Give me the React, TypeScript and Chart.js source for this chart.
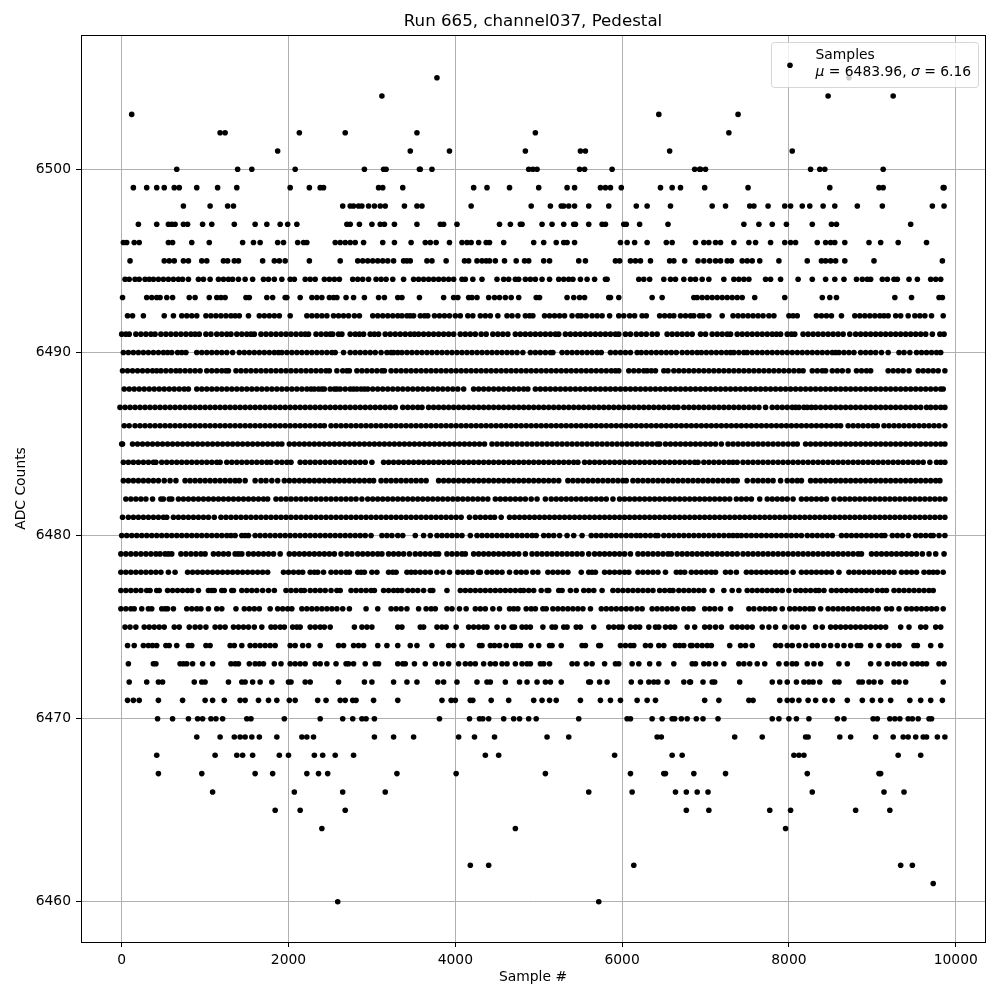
import React, { useEffect, useRef } from "react";
import { Chart, registerables } from "chart.js";

Chart.register(...registerables);

// Sample numbers of each ADC level, in tens of samples.
const SAMPLE_UNIT = 10;
const l6505 = [378, 872];
const l6504 = [312, 847, 925];
const l6503 = [12, 644, 739];
const l6502 = [118, 124, 213, 268, 354, 496, 728];
const l6501 = [187, 346, 393, 484, 550, 556, 657, 804];
const l6500 = [66, 139, 156, 208, 291, 314, 317, 357, 358, 372, 488, 493, 498, 549, 555, 588, 687, 693, 694, 700, 826, 837, 843, 913];
const l6499 = [14, 30, 42, 51, 63, 69, 90, 115, 138, 202, 225, 238, 242, 308, 313, 337, 422, 438, 465, 500, 534, 543, 574, 580, 586, 599, 646, 660, 670, 699, 751, 849, 908, 913, 985, 986];
const l6498 = [74, 106, 127, 134, 265, 274, 278, 284, 288, 296, 303, 310, 316, 339, 354, 360, 419, 491, 514, 527, 530, 536, 543, 560, 584, 617, 630, 658, 708, 724, 753, 758, 775, 795, 802, 816, 825, 841, 855, 882, 912, 972, 986];
const l6497 = [20, 42, 56, 60, 64, 74, 79, 97, 108, 135, 160, 174, 190, 199, 210, 270, 274, 285, 300, 310, 315, 327, 354, 382, 386, 402, 453, 466, 478, 480, 504, 516, 530, 542, 544, 560, 576, 580, 602, 605, 621, 655, 746, 764, 780, 797, 828, 851, 857, 946];
const l6496 = [2, 6, 15, 21, 56, 61, 84, 105, 145, 158, 166, 187, 194, 211, 218, 222, 256, 262, 268, 274, 280, 290, 313, 327, 347, 364, 370, 377, 393, 408, 414, 419, 428, 437, 441, 458, 494, 506, 521, 530, 534, 543, 598, 606, 615, 630, 653, 660, 688, 698, 704, 712, 718, 734, 752, 760, 778, 795, 802, 808, 834, 844, 850, 855, 867, 896, 910, 931, 965];
const l6495 = [10, 51, 57, 63, 74, 80, 96, 102, 122, 127, 135, 140, 169, 183, 189, 196, 225, 262, 283, 289, 295, 301, 307, 313, 319, 326, 338, 342, 346, 366, 372, 389, 411, 416, 426, 432, 437, 441, 448, 459, 473, 483, 488, 506, 513, 548, 556, 592, 597, 610, 616, 622, 634, 657, 662, 675, 691, 698, 705, 712, 718, 726, 731, 744, 750, 756, 765, 788, 822, 839, 844, 850, 856, 867, 902, 984];
const l6494 = [4, 9, 16, 21, 28, 33, 38, 44, 50, 56, 62, 68, 73, 80, 92, 98, 106, 116, 122, 128, 133, 140, 148, 157, 170, 176, 183, 192, 202, 207, 220, 226, 232, 243, 249, 255, 261, 277, 283, 289, 296, 305, 311, 317, 325, 338, 350, 356, 362, 368, 374, 380, 386, 392, 398, 408, 412, 421, 432, 450, 458, 464, 472, 476, 484, 490, 496, 504, 513, 524, 530, 536, 541, 550, 558, 567, 580, 582, 620, 626, 633, 650, 658, 664, 674, 682, 688, 696, 704, 722, 734, 740, 746, 752, 772, 778, 790, 811, 828, 844, 855, 866, 881, 888, 894, 898, 912, 918, 926, 930, 944, 954, 970, 976, 982];
const l6493 = [1, 30, 36, 42, 46, 54, 61, 81, 88, 105, 114, 119, 124, 149, 153, 174, 181, 196, 198, 214, 228, 234, 240, 249, 254, 258, 269, 278, 291, 308, 315, 331, 336, 357, 386, 398, 403, 416, 420, 426, 440, 447, 453, 460, 467, 476, 497, 501, 534, 542, 549, 555, 584, 586, 596, 636, 648, 686, 690, 696, 702, 708, 714, 720, 726, 732, 738, 744, 759, 795, 840, 849, 857, 927, 947, 980, 984];
const l6492 = [7, 13, 26, 51, 62, 72, 78, 84, 90, 101, 107, 113, 119, 125, 131, 136, 141, 152, 165, 171, 177, 183, 189, 202, 222, 228, 234, 240, 246, 254, 260, 266, 272, 279, 285, 301, 307, 313, 319, 325, 331, 336, 342, 346, 350, 358, 363, 367, 375, 381, 387, 393, 400, 406, 415, 421, 430, 436, 442, 451, 462, 468, 475, 484, 489, 493, 507, 513, 519, 525, 531, 540, 547, 551, 557, 564, 570, 576, 585, 596, 602, 609, 615, 624, 629, 645, 651, 657, 662, 670, 676, 682, 686, 693, 697, 704, 720, 733, 739, 745, 751, 757, 763, 769, 776, 782, 800, 805, 810, 833, 839, 845, 851, 863, 879, 885, 891, 897, 903, 909, 914, 919, 928, 934, 943, 951, 957, 963, 971, 985];
const l6491 = [0, 5, 9, 17, 23, 29, 35, 40, 47, 53, 59, 65, 71, 77, 83, 88, 93, 101, 107, 114, 120, 126, 131, 138, 144, 150, 155, 159, 167, 173, 179, 185, 191, 197, 203, 209, 215, 220, 224, 233, 239, 245, 250, 253, 260, 264, 274, 280, 285, 290, 298, 303, 308, 316, 322, 328, 334, 340, 346, 351, 356, 362, 368, 374, 380, 386, 392, 398, 406, 412, 418, 424, 431, 437, 445, 451, 457, 463, 472, 478, 484, 490, 496, 502, 508, 514, 520, 524, 532, 538, 544, 550, 556, 562, 568, 574, 580, 586, 592, 596, 604, 610, 617, 623, 629, 636, 642, 654, 660, 666, 672, 678, 684, 694, 700, 708, 714, 720, 726, 730, 738, 744, 750, 756, 762, 768, 774, 780, 785, 790, 798, 803, 807, 817, 823, 829, 835, 841, 847, 853, 859, 865, 873, 880, 886, 892, 898, 904, 910, 916, 922, 928, 934, 940, 946, 952, 958, 964, 972, 981, 986];
const l6490 = [2, 8, 14, 20, 26, 32, 38, 44, 50, 55, 60, 67, 72, 77, 90, 96, 102, 108, 114, 120, 126, 133, 141, 147, 153, 159, 165, 171, 177, 183, 188, 192, 198, 204, 210, 216, 222, 228, 234, 240, 246, 252, 256, 266, 274, 280, 286, 292, 298, 304, 311, 318, 323, 326, 331, 336, 342, 348, 354, 360, 366, 372, 378, 384, 390, 396, 402, 408, 414, 420, 426, 432, 438, 444, 450, 456, 462, 468, 474, 481, 490, 496, 502, 508, 514, 517, 528, 534, 540, 546, 552, 558, 564, 570, 575, 586, 592, 598, 604, 610, 618, 623, 629, 635, 641, 647, 653, 659, 665, 672, 678, 684, 690, 695, 701, 707, 713, 719, 725, 730, 734, 740, 746, 750, 756, 762, 768, 774, 780, 786, 792, 798, 804, 810, 816, 822, 828, 834, 840, 846, 852, 856, 860, 866, 872, 878, 886, 892, 898, 904, 911, 919, 932, 938, 945, 953, 959, 965, 971, 977, 982];
const l6489 = [1, 7, 13, 19, 25, 31, 37, 42, 47, 53, 59, 65, 70, 76, 82, 88, 94, 102, 108, 114, 120, 125, 128, 137, 143, 149, 155, 161, 167, 173, 179, 185, 191, 197, 203, 209, 215, 221, 227, 233, 239, 245, 249, 258, 265, 270, 273, 282, 288, 294, 300, 306, 312, 315, 323, 329, 335, 341, 347, 353, 359, 365, 371, 377, 383, 389, 395, 401, 407, 413, 419, 425, 431, 437, 443, 449, 455, 461, 467, 473, 479, 485, 491, 497, 503, 509, 515, 521, 527, 533, 539, 545, 551, 557, 563, 569, 575, 581, 587, 592, 596, 608, 614, 620, 626, 630, 635, 640, 650, 655, 662, 668, 674, 680, 686, 692, 698, 704, 710, 716, 722, 728, 734, 740, 746, 752, 758, 764, 770, 776, 782, 788, 794, 800, 806, 812, 817, 828, 834, 840, 844, 852, 858, 864, 871, 881, 887, 893, 898, 919, 925, 931, 937, 944, 955, 961, 967, 973, 979, 987];
const l6488 = [3, 9, 15, 21, 27, 33, 39, 45, 51, 57, 63, 69, 75, 80, 90, 96, 102, 108, 114, 120, 126, 132, 138, 144, 150, 156, 162, 168, 174, 180, 186, 192, 198, 204, 210, 216, 222, 227, 231, 236, 240, 243, 250, 255, 258, 262, 268, 274, 278, 282, 287, 291, 295, 301, 307, 313, 319, 325, 331, 337, 343, 349, 355, 361, 367, 373, 379, 385, 391, 397, 403, 410, 422, 428, 434, 440, 446, 452, 458, 464, 470, 476, 482, 487, 496, 502, 508, 514, 520, 526, 532, 538, 544, 550, 556, 562, 568, 574, 580, 586, 592, 598, 604, 610, 616, 622, 628, 634, 640, 646, 652, 658, 664, 670, 676, 682, 688, 694, 700, 706, 712, 718, 724, 730, 736, 742, 748, 754, 760, 766, 772, 778, 784, 790, 796, 802, 808, 814, 820, 826, 832, 838, 844, 850, 856, 862, 868, 874, 880, 886, 892, 898, 904, 910, 916, 922, 928, 934, 940, 946, 952, 958, 964, 970, 976, 982, 985];
const l6487 = [-2, 4, 10, 16, 22, 28, 34, 40, 46, 52, 58, 64, 70, 76, 82, 88, 94, 100, 106, 112, 118, 124, 130, 136, 142, 148, 154, 160, 166, 172, 178, 184, 190, 196, 202, 208, 214, 220, 226, 232, 238, 244, 250, 256, 262, 268, 274, 280, 286, 292, 298, 304, 310, 316, 322, 328, 337, 343, 349, 355, 360, 368, 374, 380, 386, 392, 398, 404, 410, 416, 422, 428, 434, 440, 446, 452, 458, 464, 470, 476, 482, 488, 494, 500, 506, 512, 518, 524, 530, 536, 542, 548, 554, 560, 566, 572, 578, 584, 590, 596, 602, 608, 614, 620, 626, 632, 638, 644, 650, 656, 662, 667, 674, 680, 686, 692, 698, 704, 710, 716, 722, 728, 734, 740, 746, 752, 758, 764, 772, 780, 786, 792, 798, 804, 808, 812, 818, 822, 827, 832, 838, 844, 850, 856, 862, 868, 874, 880, 886, 892, 898, 904, 910, 916, 922, 928, 934, 940, 946, 952, 958, 965, 970, 976, 982, 987];
const l6486 = [3, 9, 16, 22, 28, 34, 40, 46, 52, 58, 64, 70, 76, 82, 88, 94, 100, 106, 112, 118, 124, 130, 136, 142, 148, 154, 160, 166, 172, 178, 184, 190, 196, 202, 208, 214, 220, 226, 232, 238, 243, 251, 257, 263, 269, 275, 281, 287, 293, 299, 305, 311, 317, 323, 329, 335, 341, 347, 353, 359, 365, 371, 377, 383, 389, 395, 401, 407, 413, 419, 425, 431, 437, 443, 449, 455, 461, 467, 473, 479, 485, 491, 497, 503, 509, 515, 521, 527, 533, 539, 545, 551, 557, 563, 569, 575, 581, 587, 593, 599, 605, 611, 617, 623, 629, 635, 641, 647, 653, 659, 665, 671, 677, 683, 689, 695, 701, 707, 713, 719, 725, 731, 737, 743, 749, 755, 761, 767, 773, 779, 785, 791, 797, 803, 809, 815, 821, 827, 833, 839, 845, 851, 857, 862, 871, 877, 883, 889, 895, 901, 906, 914, 920, 926, 932, 938, 944, 950, 956, 962, 968, 974, 980, 987];
const l6485 = [0, 1, 13, 19, 25, 31, 37, 43, 49, 55, 61, 67, 73, 79, 85, 91, 97, 103, 109, 115, 121, 127, 133, 139, 145, 151, 157, 163, 169, 175, 181, 187, 192, 201, 207, 213, 219, 225, 231, 237, 243, 249, 255, 261, 267, 273, 279, 285, 291, 297, 303, 309, 315, 321, 327, 333, 339, 345, 351, 357, 363, 369, 375, 381, 387, 393, 399, 405, 411, 417, 423, 429, 435, 444, 450, 456, 462, 468, 474, 480, 486, 492, 498, 504, 510, 516, 522, 528, 534, 540, 546, 552, 558, 564, 570, 576, 582, 588, 594, 600, 606, 612, 618, 624, 630, 636, 642, 645, 652, 658, 664, 670, 676, 682, 688, 694, 700, 706, 712, 719, 727, 733, 739, 745, 751, 757, 763, 769, 775, 781, 787, 793, 799, 805, 810, 820, 826, 832, 838, 844, 850, 856, 862, 868, 874, 880, 886, 892, 898, 904, 910, 916, 922, 928, 934, 940, 946, 952, 958, 964, 970, 976, 982, 987];
const l6484 = [2, 8, 14, 20, 26, 32, 38, 41, 48, 54, 60, 66, 72, 78, 84, 90, 96, 102, 108, 114, 118, 126, 132, 138, 144, 150, 156, 162, 168, 174, 179, 186, 192, 198, 203, 214, 220, 226, 232, 238, 244, 250, 256, 262, 268, 274, 280, 286, 292, 300, 314, 320, 326, 332, 338, 344, 350, 356, 362, 368, 374, 380, 386, 392, 398, 404, 410, 416, 422, 428, 434, 440, 446, 452, 458, 464, 470, 476, 482, 488, 494, 500, 506, 512, 518, 524, 530, 536, 542, 547, 555, 561, 567, 573, 579, 585, 591, 597, 603, 609, 615, 621, 627, 633, 639, 645, 651, 657, 663, 669, 675, 681, 687, 691, 698, 704, 710, 716, 722, 728, 733, 738, 745, 751, 757, 763, 769, 775, 781, 787, 793, 799, 805, 811, 817, 823, 829, 835, 841, 847, 853, 859, 865, 871, 877, 883, 889, 895, 901, 907, 913, 919, 925, 931, 937, 943, 949, 955, 961, 969, 977, 982, 987];
const l6483 = [2, 8, 14, 20, 26, 32, 38, 44, 51, 58, 65, 76, 82, 88, 94, 100, 106, 112, 118, 124, 130, 136, 141, 148, 160, 167, 173, 180, 187, 195, 201, 207, 213, 219, 225, 231, 237, 243, 249, 255, 261, 267, 273, 279, 285, 291, 297, 302, 311, 317, 323, 329, 335, 341, 347, 353, 359, 365, 380, 386, 392, 398, 404, 410, 416, 422, 428, 434, 440, 446, 452, 458, 464, 470, 476, 482, 488, 494, 500, 506, 512, 518, 524, 535, 541, 547, 553, 559, 565, 571, 577, 583, 589, 595, 601, 605, 613, 619, 625, 631, 637, 643, 649, 655, 661, 667, 673, 679, 685, 691, 697, 703, 709, 715, 721, 727, 733, 738, 750, 757, 763, 769, 775, 781, 790, 798, 804, 810, 815, 826, 832, 838, 844, 850, 856, 862, 868, 874, 880, 886, 892, 898, 904, 910, 916, 922, 928, 934, 940, 946, 952, 958, 964, 970, 976, 981];
const l6482 = [5, 11, 17, 23, 29, 37, 47, 50, 57, 60, 68, 74, 80, 86, 92, 98, 104, 110, 116, 122, 128, 134, 140, 146, 152, 158, 164, 170, 175, 185, 191, 197, 203, 209, 215, 221, 227, 233, 239, 245, 251, 257, 263, 269, 275, 281, 288, 295, 301, 307, 313, 319, 325, 331, 337, 343, 349, 355, 361, 367, 373, 379, 385, 391, 397, 403, 409, 415, 421, 427, 433, 439, 448, 454, 460, 466, 472, 478, 484, 491, 498, 508, 515, 521, 527, 533, 539, 545, 551, 557, 563, 569, 575, 581, 589, 597, 603, 609, 615, 621, 627, 633, 639, 645, 651, 657, 663, 669, 675, 681, 687, 693, 699, 705, 711, 717, 723, 729, 737, 743, 749, 755, 765, 774, 780, 786, 792, 798, 805, 815, 821, 827, 833, 839, 845, 854, 861, 867, 873, 879, 885, 891, 897, 903, 909, 915, 921, 927, 933, 939, 945, 951, 957, 963, 969, 975, 981, 987];
const l6481 = [1, 8, 14, 20, 26, 32, 38, 44, 50, 54, 62, 68, 74, 80, 86, 92, 98, 104, 111, 119, 125, 131, 137, 143, 149, 155, 161, 167, 173, 179, 185, 191, 197, 203, 209, 215, 221, 227, 233, 239, 245, 251, 257, 263, 269, 275, 281, 287, 293, 299, 305, 311, 317, 323, 329, 335, 341, 347, 353, 359, 365, 371, 377, 383, 389, 395, 401, 407, 417, 424, 430, 436, 442, 447, 455, 465, 471, 477, 483, 489, 495, 501, 507, 513, 519, 525, 531, 537, 543, 549, 555, 561, 567, 573, 579, 585, 591, 597, 603, 609, 615, 621, 627, 633, 639, 645, 651, 657, 663, 669, 675, 681, 687, 693, 699, 705, 711, 717, 723, 729, 735, 741, 747, 753, 759, 765, 771, 777, 783, 789, 795, 801, 807, 813, 819, 825, 831, 837, 843, 849, 855, 861, 867, 873, 879, 885, 891, 897, 903, 909, 915, 921, 927, 933, 939, 945, 951, 957, 963, 969, 975, 981, 987];
const l6480 = [0, 6, 12, 18, 24, 30, 36, 42, 48, 54, 60, 66, 72, 78, 84, 90, 96, 102, 108, 114, 120, 126, 131, 136, 144, 148, 152, 160, 166, 172, 178, 184, 190, 196, 202, 208, 214, 220, 226, 232, 238, 244, 250, 256, 262, 268, 274, 280, 286, 292, 299, 312, 318, 324, 331, 337, 352, 362, 370, 378, 384, 390, 396, 402, 408, 418, 426, 432, 438, 444, 450, 456, 462, 468, 474, 480, 486, 492, 497, 506, 512, 518, 525, 534, 542, 552, 563, 569, 575, 581, 587, 593, 599, 605, 611, 617, 622, 628, 634, 640, 643, 650, 656, 662, 668, 674, 680, 686, 692, 698, 704, 710, 716, 722, 728, 733, 738, 743, 749, 755, 761, 767, 773, 779, 785, 791, 797, 803, 809, 815, 822, 828, 834, 840, 846, 852, 863, 869, 875, 881, 887, 893, 899, 905, 911, 915, 924, 930, 936, 943, 952, 958, 964, 970, 973, 980, 987];
const l6479 = [-1, 5, 11, 17, 23, 29, 35, 41, 46, 52, 56, 60, 71, 77, 83, 89, 95, 100, 110, 116, 122, 128, 136, 140, 144, 152, 158, 164, 170, 176, 182, 190, 201, 207, 213, 219, 225, 231, 237, 243, 249, 255, 263, 270, 276, 283, 289, 295, 301, 307, 312, 320, 326, 332, 338, 345, 352, 358, 364, 370, 376, 380, 390, 396, 402, 408, 412, 422, 428, 434, 440, 446, 452, 458, 464, 470, 476, 484, 492, 498, 504, 510, 516, 522, 528, 534, 540, 546, 552, 560, 567, 573, 579, 585, 591, 597, 603, 610, 619, 625, 631, 637, 643, 649, 655, 659, 666, 672, 678, 684, 690, 696, 702, 708, 714, 720, 726, 732, 738, 745, 751, 757, 763, 769, 775, 781, 787, 793, 799, 805, 811, 817, 823, 829, 835, 841, 847, 853, 859, 865, 871, 877, 883, 887, 899, 905, 911, 917, 923, 929, 935, 941, 947, 953, 960, 968, 976, 986];
const l6478 = [-1, 5, 11, 17, 23, 29, 35, 41, 47, 56, 64, 79, 85, 91, 97, 103, 109, 115, 121, 127, 133, 139, 145, 151, 157, 163, 169, 175, 194, 200, 206, 212, 217, 226, 231, 235, 242, 251, 257, 263, 269, 273, 283, 287, 291, 300, 306, 320, 325, 329, 342, 347, 352, 358, 364, 370, 378, 385, 393, 403, 409, 415, 420, 428, 430, 438, 444, 450, 456, 465, 473, 479, 485, 493, 499, 511, 517, 523, 529, 535, 551, 560, 564, 568, 579, 585, 591, 597, 603, 608, 619, 625, 631, 637, 643, 652, 665, 670, 675, 683, 689, 695, 701, 707, 712, 724, 730, 737, 749, 755, 761, 767, 773, 779, 785, 791, 797, 805, 815, 821, 827, 833, 839, 845, 851, 860, 872, 878, 884, 890, 896, 902, 908, 914, 920, 926, 935, 941, 947, 953, 962, 968, 973, 978, 985];
const l6477 = [-1, 5, 11, 17, 23, 30, 34, 42, 45, 55, 61, 67, 73, 79, 84, 92, 104, 108, 111, 120, 123, 132, 134, 144, 150, 156, 162, 169, 176, 183, 197, 203, 209, 215, 219, 226, 232, 238, 244, 251, 258, 262, 275, 281, 287, 293, 299, 303, 314, 320, 326, 331, 336, 343, 349, 355, 362, 370, 373, 390, 406, 412, 418, 424, 430, 436, 442, 448, 454, 460, 466, 472, 478, 482, 488, 494, 503, 510, 512, 524, 528, 538, 545, 554, 560, 566, 576, 589, 595, 601, 607, 613, 619, 625, 631, 637, 645, 651, 657, 661, 668, 674, 680, 686, 692, 698, 708, 722, 732, 740, 750, 756, 762, 768, 774, 780, 786, 792, 800, 808, 814, 820, 826, 832, 836, 842, 851, 857, 863, 869, 875, 881, 887, 893, 899, 906, 912, 917, 926, 932, 938, 944, 950, 956, 962, 968, 973];
const l6476 = [-1, 5, 11, 15, 24, 32, 36, 48, 52, 55, 62, 78, 84, 90, 95, 104, 114, 120, 137, 147, 153, 159, 165, 178, 187, 193, 199, 204, 216, 222, 228, 234, 240, 246, 252, 258, 265, 273, 293, 307, 323, 329, 335, 342, 356, 365, 371, 376, 390, 396, 405, 413, 424, 430, 436, 445, 453, 465, 470, 475, 485, 491, 496, 505, 509, 517, 523, 529, 535, 541, 547, 553, 562, 575, 581, 587, 593, 599, 605, 611, 618, 624, 636, 642, 648, 654, 660, 666, 674, 680, 685, 699, 705, 711, 718, 730, 752, 758, 765, 771, 777, 783, 792, 801, 807, 813, 819, 825, 829, 838, 847, 853, 859, 865, 871, 877, 883, 889, 895, 901, 907, 917, 923, 932, 941, 947, 953, 959, 965, 971, 977, 985];
const l6475 = [4, 10, 17, 27, 33, 39, 45, 51, 63, 69, 81, 88, 94, 101, 112, 118, 124, 134, 140, 146, 152, 159, 168, 179, 184, 190, 195, 205, 210, 214, 226, 232, 238, 243, 250, 279, 288, 294, 300, 331, 336, 358, 362, 378, 384, 389, 401, 416, 422, 428, 434, 438, 450, 458, 468, 471, 480, 485, 490, 505, 516, 520, 530, 534, 545, 550, 566, 584, 590, 596, 600, 610, 616, 621, 632, 640, 644, 652, 658, 663, 678, 687, 699, 705, 712, 719, 732, 738, 744, 750, 756, 768, 776, 784, 795, 804, 810, 818, 832, 840, 850, 856, 862, 868, 874, 880, 886, 892, 898, 904, 910, 916, 934, 944, 958, 964, 976, 982];
const l6474 = [7, 15, 26, 32, 37, 42, 53, 57, 66, 80, 84, 101, 106, 130, 135, 144, 154, 160, 166, 172, 178, 184, 202, 208, 217, 224, 238, 260, 266, 278, 284, 290, 307, 318, 331, 346, 354, 372, 392, 398, 408, 429, 432, 442, 447, 453, 461, 469, 474, 478, 491, 500, 513, 516, 527, 552, 556, 572, 574, 598, 604, 610, 614, 628, 634, 644, 650, 664, 669, 674, 682, 684, 690, 696, 702, 707, 729, 742, 748, 756, 784, 790, 798, 804, 812, 820, 828, 834, 842, 850, 858, 866, 874, 882, 886, 898, 908, 919, 926, 932, 950, 954, 970, 982];
const l6473 = [8, 38, 41, 70, 74, 78, 85, 97, 109, 131, 136, 140, 153, 160, 165, 170, 183, 191, 202, 208, 214, 220, 232, 238, 246, 257, 269, 272, 278, 292, 304, 308, 331, 337, 340, 351, 364, 376, 384, 392, 404, 412, 418, 424, 434, 442, 448, 456, 462, 472, 480, 486, 490, 502, 506, 513, 540, 546, 557, 564, 579, 592, 596, 612, 620, 633, 644, 662, 684, 688, 698, 704, 712, 722, 740, 746, 753, 762, 771, 788, 797, 804, 809, 822, 830, 838, 860, 870, 898, 908, 918, 926, 932, 939, 948, 954, 960, 965, 980, 986];
const l6472 = [9, 30, 44, 49, 87, 96, 100, 128, 144, 148, 157, 166, 180, 200, 203, 220, 226, 260, 291, 300, 326, 342, 354, 379, 386, 402, 426, 438, 442, 460, 477, 486, 498, 508, 514, 527, 560, 562, 573, 582, 611, 622, 632, 638, 643, 654, 674, 681, 682, 697, 708, 711, 741, 780, 789, 798, 809, 818, 824, 829, 837, 855, 860, 884, 888, 896, 902, 910, 926, 932, 940, 985];
const l6471 = [7, 14, 21, 44, 73, 100, 109, 123, 142, 148, 164, 176, 186, 201, 208, 235, 245, 262, 268, 277, 281, 302, 331, 384, 395, 400, 418, 421, 443, 464, 494, 504, 513, 521, 550, 574, 586, 598, 618, 630, 640, 699, 716, 752, 757, 789, 798, 804, 812, 823, 832, 843, 852, 870, 888, 900, 910, 922, 945, 958, 970, 984];
const l6470 = [43, 61, 80, 91, 97, 107, 113, 121, 150, 155, 195, 238, 265, 277, 288, 293, 303, 381, 417, 429, 433, 440, 458, 470, 477, 488, 497, 548, 606, 610, 636, 648, 660, 663, 671, 678, 689, 697, 715, 780, 788, 800, 809, 824, 858, 866, 901, 906, 921, 927, 933, 943, 948, 955, 968, 971];
const l6469 = [90, 118, 135, 142, 148, 156, 165, 186, 216, 222, 230, 303, 326, 350, 404, 423, 447, 510, 536, 642, 647, 735, 768, 820, 823, 861, 874, 904, 925, 937, 943, 952, 961, 965, 978, 987];
const l6468 = [42, 112, 138, 145, 157, 189, 200, 231, 241, 256, 278, 436, 452, 591, 660, 672, 806, 812, 818, 931, 958];
const l6467 = [44, 96, 160, 181, 222, 236, 247, 330, 401, 508, 610, 650, 652, 686, 724, 822, 908, 910];
const l6466 = [109, 207, 265, 316, 560, 612, 664, 677, 690, 703, 828, 914, 938];
const l6465 = [184, 214, 268, 677, 704, 777, 802, 880, 921];
const l6464 = [240, 472, 796];
const l6462 = [418, 440, 614, 934, 948];
const l6461 = [973];
const l6460 = [259, 572];

const levelRows: [number, number[]][] = [
  [6505, l6505], [6504, l6504], [6503, l6503], [6502, l6502], [6501, l6501], [6500, l6500],
  [6499, l6499], [6498, l6498], [6497, l6497], [6496, l6496], [6495, l6495], [6494, l6494],
  [6493, l6493], [6492, l6492], [6491, l6491], [6490, l6490], [6489, l6489], [6488, l6488],
  [6487, l6487], [6486, l6486], [6485, l6485], [6484, l6484], [6483, l6483], [6482, l6482],
  [6481, l6481], [6480, l6480], [6479, l6479], [6478, l6478], [6477, l6477], [6476, l6476],
  [6475, l6475], [6474, l6474], [6473, l6473], [6472, l6472], [6471, l6471], [6470, l6470],
  [6469, l6469], [6468, l6468], [6467, l6467], [6466, l6466], [6465, l6465], [6464, l6464],
  [6462, l6462], [6461, l6461], [6460, l6460],
];

const xTicks = [0, 2000, 4000, 6000, 8000, 10000];
const yTicks = [6460, 6470, 6480, 6490, 6500];
const titleText = "Run 665, channel037, Pedestal";
const xLabel = "Sample #";
const yLabel = "ADC Counts";
const legendLabel = "Samples";
const mu = "6483.96";
const sigma = "6.16";

const FONT = '"DejaVu Sans"';

const framePlugin = {
  id: "frameAndLegend",
  afterDatasetsDraw(chart: any) {
    const { ctx, chartArea: a } = chart;
    ctx.save();
    ctx.strokeStyle = "#000";
    ctx.lineWidth = 1;
    ctx.strokeRect(Math.round(a.left) + 0.5, Math.round(a.top) + 0.5, Math.round(a.right - a.left), Math.round(a.bottom - a.top));

    // legend box, drawn over the points as in the reference
    const bx = 771.5, by = 42.5, bw = 207, bh = 45;
    ctx.beginPath();
    ctx.roundRect(bx, by, bw, bh, 3);
    ctx.fillStyle = "rgba(255,255,255,0.8)";
    ctx.fill();
    ctx.strokeStyle = "rgba(204,204,204,0.8)";
    ctx.stroke();
    ctx.fillStyle = "#000";
    ctx.beginPath();
    ctx.arc(790, 65.2, 2.8, 0, Math.PI * 2);
    ctx.fill();
    ctx.textBaseline = "alphabetic";
    ctx.textAlign = "left";
    const regular = `13.89px ${FONT}`;
    const italic = `italic 13.89px ${FONT}`;
    ctx.font = regular;
    ctx.fillText(legendLabel, 815.5, 59);
    let x = 815.5;
    const parts: [string, string][] = [
      ["\u03bc", italic],
      [" = ", regular],
      [`${mu}, `, regular],
      ["\u03c3", italic],
      [" = ", regular],
      [sigma, regular],
    ];
    for (const [t, f] of parts) {
      ctx.font = f;
      ctx.fillText(t, x, 76);
      x += ctx.measureText(t).width;
    }
    ctx.restore();
  },
};

export default function App() {
  const ref = useRef<HTMLCanvasElement>(null);
  useEffect(() => {
    const data = levelRows.flatMap(([level, xs]) => xs.map((t) => ({ x: t * SAMPLE_UNIT, y: level })));
    const chart = new Chart(ref.current!, {
      type: "scatter",
      data: {
        datasets: [
          {
            label: legendLabel,
            data,
            backgroundColor: "#000",
            borderWidth: 0,
            pointRadius: 2.8,
            pointHoverRadius: 2.8,
          },
        ],
      },
      plugins: [framePlugin],
      options: {
        animation: false,
        responsive: false,
        events: [],
        layout: { padding: { left: 0, right: 15, top: 0, bottom: 0 } },
        plugins: {
          legend: { display: false },
          tooltip: { enabled: false },
          title: {
            display: true,
            fullSize: false,
            text: titleText,
            color: "#000",
            font: { family: FONT, size: 16.67, weight: "normal" },
            padding: { top: 12, bottom: 3 },
          },
        },
        scales: {
          x: {
            type: "linear",
            min: -488,
            max: 10351,
            afterBuildTicks: (s: any) => {
              s.ticks = xTicks.map((value) => ({ value }));
            },
            afterFit: (s: any) => {
              s.height = 58;
            },
            title: {
              display: true,
              text: xLabel,
              color: "#000",
              font: { family: FONT, size: 13.89 },
              padding: { top: 4, bottom: 14 },
            },
            border: { color: "#000" },
            grid: { color: "#b0b0b0", lineWidth: 1, tickColor: "#000", tickLength: 5 },
            ticks: {
              color: "#000",
              font: { family: FONT, size: 13.89 },
              padding: 5,
              maxRotation: 0,
              autoSkip: false,
              callback: (v: any) => String(v),
            },
          },
          y: {
            type: "linear",
            min: 6457.805,
            max: 6507.335,
            afterBuildTicks: (s: any) => {
              s.ticks = yTicks.map((value) => ({ value }));
            },
            afterFit: (s: any) => {
              s.width = 81;
            },
            title: {
              display: true,
              text: yLabel,
              color: "#000",
              font: { family: FONT, size: 13.89 },
              padding: { top: 13, bottom: 6 },
            },
            border: { color: "#000" },
            grid: { color: "#b0b0b0", lineWidth: 1, tickColor: "#000", tickLength: 5 },
            ticks: {
              color: "#000",
              font: { family: FONT, size: 13.89 },
              padding: 5,
              autoSkip: false,
              callback: (v: any) => String(v),
            },
          },
        },
      },
    } as any);
    return () => chart.destroy();
  }, []);
  return (
    <div style={{ position: "absolute", left: 0, top: 0, width: 1000, height: 1000, background: "#fff" }}>
      <canvas ref={ref} width={1000} height={1000} style={{ display: "block" }} />
    </div>
  );
}
